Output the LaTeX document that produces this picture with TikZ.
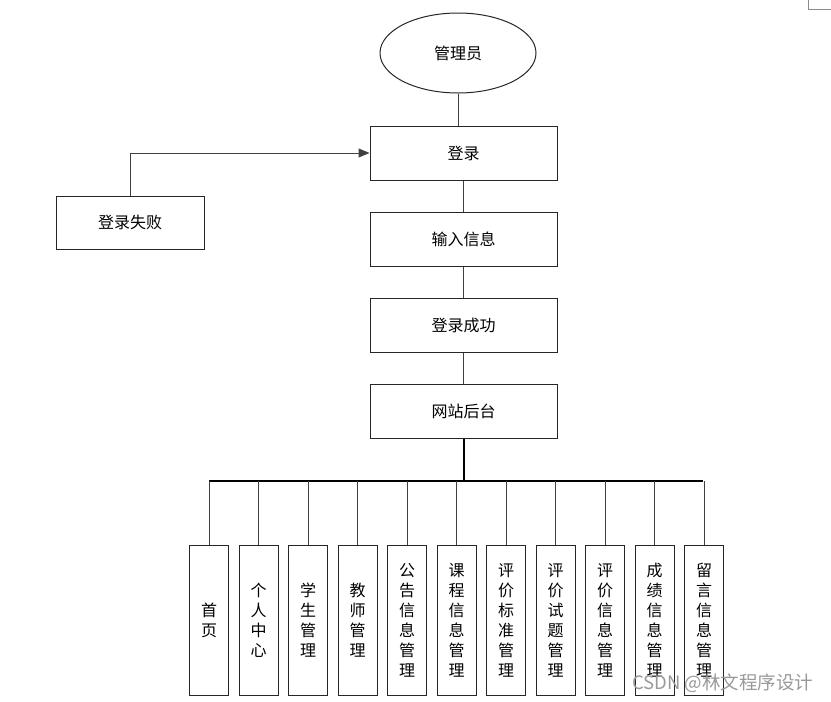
\documentclass[tikz,border=0pt]{standalone}
\usepackage{fontspec}
\setmainfont{Noto Sans CJK SC}
\usetikzlibrary{shapes.geometric,arrows.meta}
\begin{document}
\begin{tikzpicture}[x=1pt,y=-1pt,
  box/.style={draw=black!85,line width=1pt,minimum width=187pt,minimum height=54pt,font=\fontsize{16}{18}\selectfont,inner sep=0pt},
  vbox/.style={draw=black!85,line width=1pt,minimum width=39pt,minimum height=150pt,font=\fontsize{16}{20}\selectfont,align=center,inner sep=0pt},
  conn/.style={draw=black!75,line width=1pt},
  bus/.style={draw=black,line width=2pt}]
\useasboundingbox (0,0) rectangle (831,702);
\draw[black!45,line width=0.8pt] (808,0) -- (808,9) -- (831,9);

\node[ellipse,draw=black!85,line width=1pt,minimum width=156pt,minimum height=80pt,font=\fontsize{16}{18}\selectfont] (admin) at (458,53) {管理员};
\node[box] (login) at (463.5,153) {登录};
\node[box] (input) at (463.5,239) {输入信息};
\node[box] (ok) at (463.5,325) {登录成功};
\node[box] (site) at (463.5,411) {网站后台};
\node[box,minimum width=148pt,minimum height=53pt] (fail) at (130,222.5) {登录失败};

\draw[conn] (admin.south) -- (admin.south |- login.north);
\draw[conn] (login) -- (input);
\draw[conn] (input) -- (ok);
\draw[conn] (ok) -- (site);
\draw[conn,-{Triangle[length=11pt,width=9pt]}] (fail.north) |- (login.west);

\coordinate (busL) at (209,481);
\coordinate (busR) at (703,481);
\draw[bus] (site.south) -- (site.south |- busL);
\draw[bus] (busL) -- (busR);

\foreach \i/\x/\t in {1/209/首\\页, 2/258.5/个\\人\\中\\心, 3/308/学\\生\\管\\理, 4/357.5/教\\师\\管\\理, 5/407/公\\告\\信\\息\\管\\理, 6/456.5/课\\程\\信\\息\\管\\理, 7/506/评\\价\\标\\准\\管\\理, 8/555.5/评\\价\\试\\题\\管\\理, 9/605/评\\价\\信\\息\\管\\理, 10/654.5/成\\绩\\信\\息\\管\\理, 11/704/留\\言\\信\\息\\管\\理} {
  \node[vbox] (m\i) at (\x,620.5) {\t};
  \draw[conn] (m\i.north) -- (m\i.north |- busL);
}
\node[text=black!40,font=\fontsize{18.5}{20}\selectfont,anchor=east] (wm) at (817,683) {CSDN @林文程序设计};
\end{tikzpicture}
\end{document}
